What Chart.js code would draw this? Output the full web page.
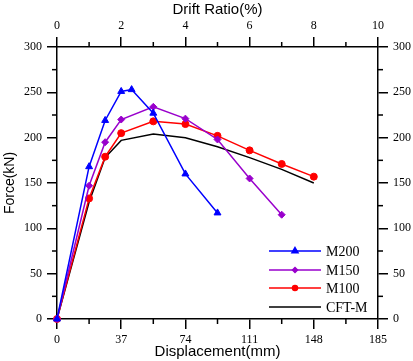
<!DOCTYPE html>
<html>
<head>
<meta charset="utf-8">
<script src="https://cdn.jsdelivr.net/npm/chart.js@4.4.1/dist/chart.umd.min.js"></script>
<style>
  html, body { margin: 0; padding: 0; background: #fff; }
  #wrap { width: 413px; height: 361px; }
</style>
</head>
<body>
<div id="wrap"><canvas id="c" width="413" height="361"></canvas></div>
<script>
// ---- data ----
const seriesNames = ['M200', 'M150', 'M100', 'CFT-M'];
const dispM200  = [0, 18.5, 27.75, 37, 43, 55.5, 74, 92.5];
const forceM200 = [0, 168, 219, 251, 253, 227, 160, 117];
const dispM150  = [0, 18.5, 27.75, 37, 55.5, 74, 92.5, 111, 129.5];
const forceM150 = [0, 147, 195, 220, 234, 221, 198, 155, 115];
const dispM100  = [0, 18.5, 27.75, 37, 55.5, 74, 92.5, 111, 129.5, 148];
const forceM100 = [0, 133, 179, 205, 218, 215, 202, 186, 171, 157];
const dispCFT   = [0, 18.5, 27.75, 37, 55.5, 74, 92.5, 111, 129.5, 148];
const forceCFT  = [0, 129, 178, 197, 204, 200, 190, 178, 165, 150];
const dispTicks  = [0, 37, 74, 111, 148, 185];
const driftTicks = [0, 2, 4, 6, 8, 10];
const forceTicks = [0, 50, 100, 150, 200, 250, 300];

const SERIF = "'Liberation Serif', 'Times New Roman', serif";
const SANS = "'Liberation Sans', Arial, sans-serif";

function pts(xs, ys) { return xs.map((x, i) => ({ x: x, y: ys[i] })); }

const colors = ['#0000ff', '#9900cc', '#ff0000', '#000000'];
const styles = ['triangle', 'rectRot', 'circle', false];
const radii = [4, 3.5, 3.5, 0];
const dataSets = [pts(dispM200, forceM200), pts(dispM150, forceM150), pts(dispM100, forceM100), pts(dispCFT, forceCFT)];

const datasets = seriesNames.map((n, i) => ({
  label: n,
  data: dataSets[i],
  borderColor: colors[i],
  backgroundColor: colors[i],
  borderWidth: 1.5,
  pointStyle: styles[i],
  pointRadius: radii[i],
  pointBorderWidth: 1,
  tension: 0,
  clip: false,
  xAxisID: 'x',
  yAxisID: 'y'
}));

function axisCommon() {
  return {
    grid: { display: true, drawOnChartArea: false, drawTicks: true, tickLength: 10, color: '#000', tickColor: '#000', tickWidth: 1.5, lineWidth: 1.5 },
    border: { display: true, color: '#000', width: 1.5 },
    ticks: { color: '#000', font: { family: SERIF, size: 12 }, padding: 4, maxRotation: 0, autoSkip: false }
  };
}

const xAx = axisCommon();
Object.assign(xAx, { type: 'linear', position: 'bottom', min: 0, max: 185,
  afterBuildTicks: s => { s.ticks = dispTicks.map(v => ({ value: v })); },
  afterFit: s => { s.height = 42; },
  title: { display: true, text: 'Displacement(mm)', color: '#000', font: { family: SANS, size: 15 }, padding: { top: 0, bottom: 0 } } });
xAx.ticks.callback = v => String(v);

const x2Ax = axisCommon();
Object.assign(x2Ax, { type: 'linear', position: 'top', min: 0, max: 10,
  afterBuildTicks: s => { s.ticks = driftTicks.map(v => ({ value: v })); },
  afterFit: s => { s.height = 47; },
  title: { display: true, text: 'Drift Ratio(%)', color: '#000', font: { family: SANS, size: 15 }, padding: { top: 1, bottom: 0 } } });
x2Ax.ticks.callback = v => String(v);

const yAx = axisCommon();
Object.assign(yAx, { type: 'linear', position: 'left', min: 0, max: 300,
  afterBuildTicks: s => { s.ticks = forceTicks.map(v => ({ value: v })); },
  afterFit: s => { s.width = 57; },
  title: { display: true, text: 'Force(kN)', color: '#000', font: { family: SANS, size: 14 }, padding: { top: 2, bottom: 0 } } });
yAx.ticks.padding = 5;
yAx.ticks.callback = v => String(v);

const y2Ax = axisCommon();
Object.assign(y2Ax, { type: 'linear', position: 'right', min: 0, max: 300,
  afterBuildTicks: s => { s.ticks = forceTicks.map(v => ({ value: v })); },
  afterFit: s => { s.width = 35; } });
y2Ax.ticks.padding = 5;
y2Ax.ticks.callback = v => String(v);

// minor ticks (axis decoration only)
const minorTicks = {
  id: 'minorTicks',
  afterDraw(chart) {
    const ctx = chart.ctx, a = chart.chartArea, sc = chart.scales;
    ctx.save();
    ctx.strokeStyle = '#000';
    ctx.lineWidth = 1.5;
    const L = 5;
    function line(x1, y1, x2, y2) { ctx.beginPath(); ctx.moveTo(x1, y1); ctx.lineTo(x2, y2); ctx.stroke(); }
    for (let i = 0; i < dispTicks.length - 1; i++) {
      const v = (dispTicks[i] + dispTicks[i + 1]) / 2;
      const p = sc.x.getPixelForValue(v);
      line(p, a.bottom, p, a.bottom + L);
    }
    for (let i = 0; i < driftTicks.length - 1; i++) {
      const v = (driftTicks[i] + driftTicks[i + 1]) / 2;
      const p = sc.x2.getPixelForValue(v);
      line(p, a.top, p, a.top - L);
    }
    for (let i = 0; i < forceTicks.length - 1; i++) {
      const v = (forceTicks[i] + forceTicks[i + 1]) / 2;
      const p = sc.y.getPixelForValue(v);
      line(a.left, p, a.left - L, p);
      line(a.right, p, a.right + L, p);
    }
    ctx.restore();
  }
};

// legend inside the plot, bottom right
const insideLegend = {
  id: 'insideLegend',
  afterDraw(chart) {
    const ctx = chart.ctx, a = chart.chartArea;
    const x0 = a.right - 109, x1 = a.right - 57, tx = a.right - 52;
    const ys = [251, 270, 288, 307].map(y => a.bottom - (319 - y));
    ctx.save();
    chart.data.datasets.forEach((ds, i) => {
      const y = ys[i];
      ctx.strokeStyle = ds.borderColor;
      ctx.lineWidth = 1.5;
      ctx.beginPath(); ctx.moveTo(x0, y); ctx.lineTo(x1, y); ctx.stroke();
      if (ds.pointStyle) {
        ctx.fillStyle = ds.backgroundColor;
        Chart.helpers.drawPoint(ctx, { pointStyle: ds.pointStyle, radius: ds.pointStyle === 'triangle' ? 3.5 : 2.5, rotation: 0, borderWidth: 1 }, (x0 + x1) / 2, y);
      }
      ctx.fillStyle = '#000';
      ctx.font = '14px ' + SERIF;
      ctx.textAlign = 'left';
      ctx.textBaseline = 'middle';
      ctx.fillText(ds.label, tx, y + 1);
    });
    ctx.restore();
  }
};

new Chart(document.getElementById('c'), {
  type: 'line',
  data: { datasets: datasets },
  options: {
    responsive: false,
    animation: false,
    layout: { padding: 0 },
    plugins: { legend: { display: false }, tooltip: { enabled: false } },
    scales: { x: xAx, x2: x2Ax, y: yAx, y2: y2Ax }
  },
  plugins: [minorTicks, insideLegend]
});
</script>
</body>
</html>
